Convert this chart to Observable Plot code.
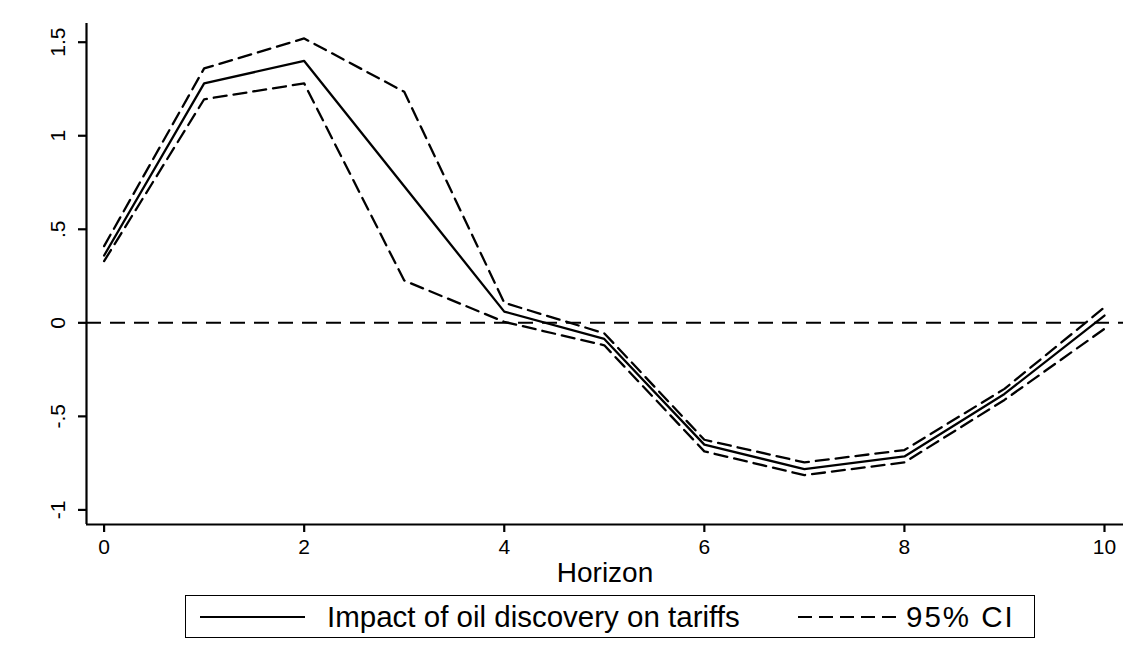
<!DOCTYPE html>
<html><head><meta charset="utf-8">
<script src="https://cdn.jsdelivr.net/npm/d3@7"></script>
<script src="https://cdn.jsdelivr.net/npm/@observablehq/plot@0.6"></script>
<style>
html,body{margin:0;padding:0;background:#fff;}
body{font-family:"Liberation Sans",Arial,Helvetica,sans-serif;color:#000;}
#wrap{position:relative;width:1147px;height:665px;overflow:hidden;}
#chart{position:absolute;left:0;top:0;}
#chart g[aria-label="x-axis tick label"], #chart g[aria-label="y-axis tick label"]{font-size:21px !important;}
#chart g[aria-label="x-axis label"]{font-size:28px !important;}
#legend{position:absolute;left:185px;top:595px;width:850px;height:43px;box-sizing:border-box;border:1.6px solid #000;background:#fff;}
#legend .item{position:absolute;top:0;height:100%;display:flex;align-items:center;}
#legend .txt{font-size:29.5px;line-height:1;white-space:nowrap;}
</style></head><body>
<div id="wrap"><div id="chart"></div><div id="legend"></div></div>
<script>
// ---- data ----
const horizon  = [0, 1, 2, 3, 4, 5, 6, 7, 8, 9, 10];
const irf      = [0.36, 1.28, 1.40, 0.73, 0.06, -0.086, -0.651, -0.782, -0.714, -0.38, 0.039];
const ciUpper  = [0.41, 1.36, 1.52, 1.235, 0.107, -0.056, -0.625, -0.746, -0.68, -0.353, 0.083];
const ciLower  = [0.33, 1.195, 1.28, 0.226, 0.005, -0.12, -0.687, -0.814, -0.746, -0.412, -0.032];
const xTicks = [0, 2, 4, 6, 8, 10];
const yTicks = [-1, -0.5, 0, 0.5, 1, 1.5];
const yTickLabels = ["-1", "-.5", "0", ".5", "1", "1.5"];
const xTitle = "Horizon";
const legendLabels = ["Impact of oil discovery on tariffs", "95% CI"];
const zeroLine = [0];

// ---- chart ----
const xDomain = [-0.176, 10.19];
const yDomain = [-1.078, 1.60];
const rows = horizon.map((h, i) => ({h, irf: irf[i], up: ciUpper[i], lo: ciLower[i]}));
const font = '"Liberation Sans",Arial,Helvetica,sans-serif';

const chart = Plot.plot({
  width: 1147, height: 590,
  marginLeft: 86, marginRight: 24, marginTop: 23, marginBottom: 66,
  style: {fontFamily: font, fontSize: "21px", color: "#000", background: "#fff", overflow: "visible"},
  x: {domain: xDomain},
  y: {domain: yDomain},
  marks: [
    Plot.ruleY(zeroLine, {stroke: "#000", strokeWidth: 2, strokeDasharray: "15,9"}),
    Plot.line(rows, {x: "h", y: "up", stroke: "#000", strokeWidth: 2.3, strokeDasharray: "13,7"}),
    Plot.line(rows, {x: "h", y: "lo", stroke: "#000", strokeWidth: 2.3, strokeDasharray: "13,7"}),
    Plot.line(rows, {x: "h", y: "irf", stroke: "#000", strokeWidth: 2.3}),
    Plot.ruleX([xDomain[0]], {stroke: "#000", strokeWidth: 2.2}),
    Plot.ruleY([yDomain[0]], {stroke: "#000", strokeWidth: 2.2}),
    Plot.axisY({ticks: yTicks, tickFormat: d => yTickLabels[yTicks.indexOf(d)], tickSize: 8, tickPadding: 14,
                tickRotate: -90, label: null, fontSize: 21, strokeWidth: 2.2}),
    Plot.axisX({ticks: xTicks, tickFormat: d => String(d), tickSize: 8, tickPadding: 7, label: null, fontSize: 21, strokeWidth: 2.2}),
    Plot.axisX({ticks: [], label: xTitle, labelAnchor: "center", labelArrow: "none", labelOffset: 57, fontSize: 28})
  ]
});
document.getElementById("chart").appendChild(chart);

// ---- legend (below the svg) ----
const lg = document.getElementById("legend");
function sample(left, width, dash) {
  const d = document.createElement("div");
  d.className = "item";
  d.style.left = left + "px";
  d.innerHTML = `<svg width="${width}" height="6"><line x1="0" x2="${width}" y1="3" y2="3" stroke="#000" stroke-width="2.2" ${dash ? `stroke-dasharray="${dash}"` : ""}/></svg>`;
  lg.appendChild(d);
}
function label(left, text, spacing) {
  const d = document.createElement("div");
  d.className = "item";
  d.style.left = left + "px";
  const s = document.createElement("span");
  s.className = "txt";
  if (spacing) s.style.letterSpacing = spacing;
  s.textContent = text;
  d.appendChild(s);
  lg.appendChild(d);
}
sample(14, 105, null);
label(141, legendLabels[0]);
sample(612, 98, "14,7");
label(720, legendLabels[1], "2px");
</script>
</body></html>
